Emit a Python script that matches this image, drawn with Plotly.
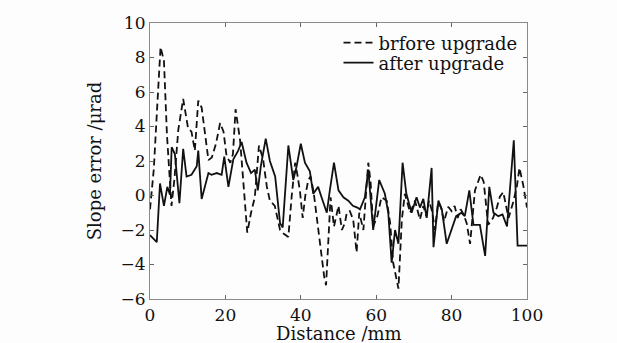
import plotly.graph_objects as go

# Before upgrade (dashed)
before_x = [0, 1, 2, 2.8, 3.7, 4.5, 5.7, 6.5, 7.5, 8.8, 10.1, 11, 11.9, 12.8, 13.7, 14.6, 15.5, 16.4,
            17.5, 18.6, 19.5, 20.3, 21.3, 22, 22.7, 23.9, 24.9, 25.8, 26.8, 27.8, 28.9, 30, 31, 31.8,
            33.1, 34.5, 35.4, 36.7, 37.6, 38.5, 39.1, 39.8, 40.5, 41.2, 42, 42.6, 43.4, 44.2, 45.1,
            46.2, 46.7, 47.3, 47.9, 48.8, 50, 50.9, 51.7, 52.2, 53, 53.9, 54.8, 55.5, 56.6, 57.9,
            58.5, 59.2, 60.3, 61.4, 62.8, 63.7, 64.5, 65.9, 66.8, 67.6, 69, 70.3, 71.6, 72.5, 73.3,
            74, 74.8, 75.6, 76.4, 77.2, 78, 79.1, 80, 80.8, 81.6, 82.4, 83.2, 84, 84.9, 86.2, 87.7,
            88.5, 89.7, 91, 92, 92.8, 93.7, 95.1, 96.2, 97.3, 98, 99, 100]
before_y = [-0.8, 1.5, 5.5, 8.6, 7.8, 3.5, -0.6, 1.0, 3.8, 5.6, 3.9, 3.7, 2.6, 5.5, 5.1, 3.5, 2.05, 2.2,
            3.0, 4.2, 3.7, 2.3, 1.9, 2.4, 5.0, 3.2, 0.5, -2.15, -1.0, -0.1, 2.9, 2.1, 0.5, -0.3,
            -0.6, -2.0, -2.2, -2.4, 0.0, 1.9, 1.2, 0.2, -1.3, 0.0, 0.9, 1.1, 0.2, -1.2, -2.75,
            -4.7, -5.2, -2.4, -0.1, -1.8, -0.6, -2.0, -1.6, -1.0, -0.9, -1.4, -3.3, -1.0, -2.0, 1.9,
            0.8, -1.8, -1.2, -0.1, -0.3, -1.6, -3.9, -5.4, -1.4, 0.1, -1.0, -0.3, -1.4, -0.6, -1.2,
            -0.3, -0.9, -2.0, -0.4, -0.7, -1.5, -0.65, -0.9, -0.6, -1.3, -0.8, -1.1, -1.6, -2.8, 0.3, 1.2,
            0.8, -1.7, -1.3, -0.7, -0.07, 0.2, -1.3, -0.5, 0.5, 1.6, 0.6, -0.7]

# After upgrade (solid)
after_x = [0, 1.8, 2.65, 3.7, 4.6, 5.3, 5.75, 6.6, 7.8, 8.8, 9.7, 11, 12.4, 12.8, 13.7, 15.5, 16.3,
           17.7, 19, 19.7, 20.8, 22.1, 23.4, 24.3, 25.6, 26.8, 27.8, 28.6, 29.4, 30.7, 31.8, 33.2,
           34.5, 35.2, 36.7, 38, 38.9, 40, 41.1, 42.4, 43.3, 44.6, 45.5, 46.9, 47.7, 48.8, 50, 51.3,
           52.6, 53.8, 55, 55.7, 57, 57.9, 59.2, 60.8, 62.3, 63.2, 64.1, 65, 65.9, 67, 68, 69.4,
           70.7, 71.6, 72.5, 73.4, 74.7, 75.2, 76.5, 77.4, 78.7, 80, 81.2, 82.6, 83.5, 84.7, 85.8,
           87.5, 88.9, 90, 91.1, 92.4, 93.5, 94.7, 96.5, 97.5, 100]
after_y = [-2.3, -2.7, 0.7, -0.6, 0.5, 0.05, 2.8, 2.4, -0.45, 2.7, 1.1, 1.2, 1.7, 2.6, -0.2, 1.3, 1.2,
           1.3, 1.2, 2.25, 0.5, 2.1, 2.6, 3.1, 1.9, 1.3, 1.5, 0.3, 1.7, 3.3, 2.0, 1.1,
           -1.6, -1.85, 2.9, 0.9, 1.7, 3.0, 1.9, 1.4, 0.1, 0.5, -0.1, -1.0, 0.3, 1.9, 0.3, -0.1,
           -0.3, -0.6, -0.7, -0.8, -0.1, 1.5, -2.0, 0.9, 0.1, -1.0, -3.9, -2.0, -2.8, 1.9, 0.1, -1.0,
           -0.1, -0.7, -0.2, -1.3, 1.6, -3.0, -0.3, -0.8, -2.8, -1.9, -1.2, -1.0, -1.2, 0.3, -1.7,
           -1.7, -3.5, 0.5, -1.0, -1.2, -1.1, -1.8, 3.2, -2.9, -2.9]

x_ticks = [0, 20, 40, 60, 80, 100]
y_ticks = [-6, -4, -2, 0, 2, 4, 6, 8, 10]
y_tick_labels = ["\u22126", "\u22124", "\u22122", "0", "2", "4", "6", "8", "10"]
x_title = "Distance /mm"
y_title = "Slope error /\u03bcrad"

FONT = "DejaVu Serif"
FS_TICK = 17
FS_TITLE = 18
INK = "#111111"

fig = go.Figure()
fig.add_trace(go.Scatter(x=before_x, y=before_y, mode="lines", name="brfore upgrade",
                         legend="legend",
                         line=dict(color=INK, width=1.8, dash="7px,4px")))
fig.add_trace(go.Scatter(x=after_x, y=after_y, mode="lines", name="after upgrade",
                         legend="legend2",
                         line=dict(color=INK, width=1.8)))

axis_common = dict(showgrid=False, zeroline=False, showline=True, linecolor="#8a8a8a",
                   linewidth=1.2, mirror="ticks", ticks="inside", ticklen=4,
                   tickcolor="#666666", tickfont=dict(family=FONT, size=FS_TICK, color=INK),
                   automargin=False)

fig.update_xaxes(range=[0, 100], tickvals=x_ticks, **axis_common)
fig.update_yaxes(range=[-6, 10], tickvals=y_ticks, ticktext=y_tick_labels,
                 title=dict(text=y_title, font=dict(family=FONT, size=FS_TITLE, color=INK),
                            standoff=14),
                 **axis_common)

fig.add_annotation(text=x_title, xref="paper", yref="paper", x=0.5, y=0,
                   xanchor="center", yanchor="middle", yshift=-34, showarrow=False,
                   font=dict(family=FONT, size=FS_TITLE, color=INK))

leg_common = dict(xanchor="left", yanchor="middle", bgcolor="rgba(0,0,0,0)",
                  font=dict(family=FONT, size=FS_TITLE, color=INK), itemwidth=30,
                  borderwidth=0)

fig.update_layout(
    width=617, height=343,
    margin=dict(l=150, r=90, t=23, b=44),
    paper_bgcolor="#fdfdfd", plot_bgcolor="#fdfdfd",
    font=dict(family=FONT, size=FS_TITLE, color=INK),
    legend=dict(x=0.50, y=0.9275, **leg_common),
    legend2=dict(x=0.50, y=0.855, **leg_common),
    showlegend=True,
)

fig.write_html("out.html")
